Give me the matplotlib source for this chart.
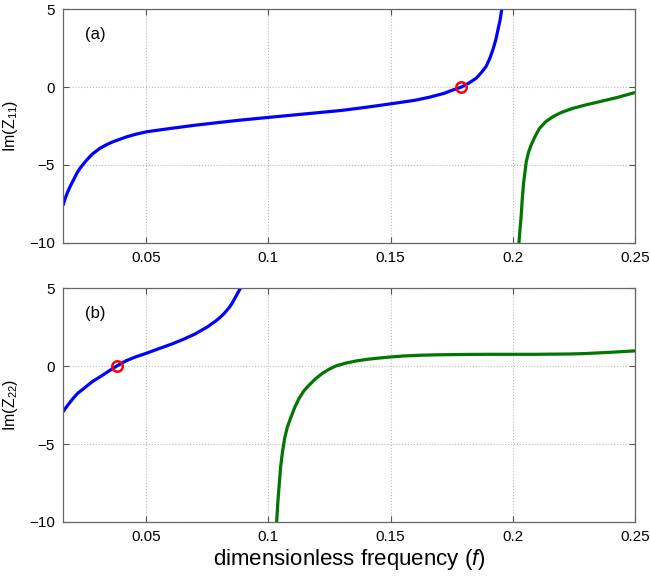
import matplotlib
matplotlib.use("Agg")
import matplotlib.pyplot as plt

plt.rcParams['font.family'] = ['Liberation Sans', 'DejaVu Sans']
plt.rcParams['mathtext.fontset'] = 'custom'
plt.rcParams['mathtext.rm'] = 'Liberation Sans'
plt.rcParams['mathtext.it'] = 'Liberation Sans:italic'
plt.rcParams['mathtext.default'] = 'regular'

# ---- data ----
a_blue_x = [0.016, 0.017, 0.018, 0.019, 0.020, 0.0216, 0.023, 0.0257, 0.028, 0.0311,
            0.0338, 0.0366, 0.0421, 0.046, 0.0502, 0.0598, 0.070, 0.080, 0.090, 0.100,
            0.110, 0.120, 0.130, 0.140, 0.150, 0.160, 0.166, 0.172, 0.175, 0.179,
            0.182, 0.185, 0.187, 0.189, 0.1905, 0.1918, 0.193, 0.1939, 0.1948, 0.1955]
a_blue_y = [-7.6, -7.1, -6.7, -6.35, -6.05, -5.55, -5.2, -4.68, -4.3, -3.93,
            -3.7, -3.5, -3.19, -3.02, -2.87, -2.66, -2.45, -2.27, -2.1, -1.95,
            -1.8, -1.65, -1.5, -1.3, -1.08, -0.85, -0.65, -0.4, -0.22, 0.0,
            0.25, 0.56, 0.9, 1.3, 1.8, 2.37, 3.0, 3.65, 4.3, 5.0]
a_green_x = [0.2025, 0.2029, 0.2034, 0.2039, 0.2044, 0.2055, 0.2064, 0.2075, 0.209,
             0.2109, 0.2135, 0.2164, 0.220, 0.2245, 0.230, 0.2355, 0.243, 0.250]
a_green_y = [-10.0, -9.2, -8.3, -7.1, -6.17, -4.79, -4.2, -3.72, -3.2,
             -2.65, -2.22, -1.9, -1.62, -1.37, -1.14, -0.94, -0.66, -0.35]
a_zero = (0.179, 0.0)

b_blue_x = [0.016, 0.018, 0.020, 0.022, 0.0246, 0.028, 0.0313, 0.035, 0.038, 0.042,
            0.046, 0.050, 0.055, 0.060, 0.0651, 0.070, 0.075, 0.0786, 0.080, 0.082,
            0.084, 0.0853, 0.0865, 0.0875, 0.0888]
b_blue_y = [-2.93, -2.5, -2.1, -1.75, -1.43, -1.0, -0.68, -0.3, 0.0, 0.35,
            0.6, 0.81, 1.1, 1.38, 1.7, 2.05, 2.5, 2.9, 3.08, 3.38,
            3.75, 4.05, 4.4, 4.68, 5.05]
b_green_x = [0.1034, 0.1039, 0.1044, 0.105, 0.1057, 0.1067, 0.1078, 0.1092, 0.1108,
             0.1126, 0.1145, 0.1167, 0.1193, 0.1221, 0.1248, 0.1276, 0.1315, 0.1358,
             0.140, 0.144, 0.150, 0.155, 0.162, 0.170, 0.180, 0.190, 0.200, 0.210,
             0.215, 0.223, 0.230, 0.235, 0.240, 0.250]
b_green_y = [-10.0, -8.7, -7.7, -6.5, -5.6, -4.6, -3.9, -3.3, -2.65,
             -2.07, -1.6, -1.22, -0.82, -0.47, -0.21, 0.0, 0.18, 0.32,
             0.42, 0.49, 0.58, 0.64, 0.69, 0.72, 0.74, 0.75, 0.75, 0.75,
             0.76, 0.77, 0.8, 0.84, 0.88, 0.97]
b_zero = (0.038, 0.0)

xticks = [0.05, 0.1, 0.15, 0.2, 0.25]
xticklabels = ['0.05', '0.1', '0.15', '0.2', '0.25']
yticks = [-10, -5, 0, 5]
xlim = (0.016, 0.25)
ylim = (-10, 5)

fig = plt.figure(figsize=(6.5, 5.78), dpi=100)
ax_a = fig.add_axes([0.0969, 0.5796, 0.8801, 0.4048])
ax_b = fig.add_axes([0.0969, 0.0969, 0.8801, 0.4048])

panels = [
    (ax_a, a_blue_x, a_blue_y, a_green_x, a_green_y, a_zero, '(a)', 'Im(Z$_{11}$)'),
    (ax_b, b_blue_x, b_blue_y, b_green_x, b_green_y, b_zero, '(b)', 'Im(Z$_{22}$)'),
]
for ax, bx, by, gx, gy, z, lab, ylab in panels:
    ax.plot(bx, by, color='#0000ff', lw=2.3, solid_capstyle='butt', solid_joinstyle='round')
    ax.plot(gx, gy, color='#007700', lw=2.3, solid_capstyle='butt', solid_joinstyle='round')
    ax.plot([z[0]], [z[1]], 'o', mfc='none', mec='#ff0000', mew=1.8, ms=7.5)
    ax.set_xlim(*xlim)
    ax.set_ylim(*ylim)
    ax.set_xticks(xticks)
    ax.set_xticklabels(xticklabels)
    ax.set_yticks(yticks)
    ax.grid(True, color='#bbbbbb', linestyle=':', linewidth=0.8)
    ax.tick_params(direction='in', top=True, right=True, labelsize=11,
                   length=4, color='#555555', pad=6)
    for s in ax.spines.values():
        s.set_color('#666666')
        s.set_linewidth(0.9)
    ax.set_ylabel(ylab, fontsize=11.5, labelpad=6)
    ax.text(0.038, 0.889, lab, transform=ax.transAxes, fontsize=12, va='center', ha='left')

ax_b.set_xlabel('dimensionless frequency ($\\it{f}$)', fontsize=16, labelpad=2)

fig.savefig('out.png', dpi=100)
